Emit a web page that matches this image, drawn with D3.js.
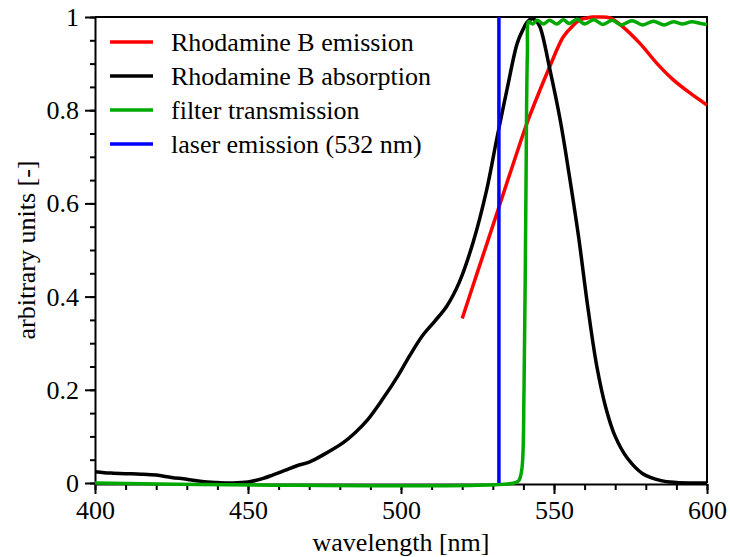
<!DOCTYPE html>
<html>
<head>
<meta charset="utf-8">
<script src="https://cdn.jsdelivr.net/npm/d3@7"></script>
<style>
  body { margin: 0; background: #fff; }
  svg text, svg g text { font-family: 'Liberation Serif', 'Times New Roman', serif !important; }
</style>
</head>
<body>
<svg id="chart" width="730" height="557"></svg>
<script>
// absorption spectrum of Rhodamine B
const absWl  = [400, 403, 406, 410, 415, 420, 425, 430, 435, 440, 445, 450, 455, 458, 462, 466, 470, 475, 481, 485, 489, 494, 499, 503, 507, 511, 515, 519, 523.5, 528, 531.4, 534.6, 538, 540, 541.2, 542.8, 544, 545.4, 548.7, 552, 555, 558, 561, 564, 567, 570, 574, 579, 585, 590, 595, 600];
const absVal = [0.024, 0.022, 0.021, 0.02, 0.019, 0.017, 0.012, 0.008, 0.003, 0.001, 0.0, 0.002, 0.01, 0.017, 0.027, 0.037, 0.045, 0.062, 0.086, 0.108, 0.135, 0.18, 0.23, 0.275, 0.316, 0.347, 0.38, 0.43, 0.515, 0.629, 0.742, 0.843, 0.944, 0.975, 0.989, 0.996, 0.993, 0.979, 0.886, 0.78, 0.66, 0.53, 0.38, 0.25, 0.16, 0.1, 0.053, 0.02, 0.005, 0.001, 0, 0];

// emission spectrum
const emWl  = [520, 524, 528, 531.7, 535, 538.2, 541.2, 545.4, 548.7, 553, 556, 558.5, 560.8, 562.7, 565, 568.3, 572.5, 578, 583.7, 589, 594.4, 600];
const emVal = [0.353, 0.433, 0.512, 0.586, 0.652, 0.715, 0.773, 0.843, 0.895, 0.957, 0.98, 0.994, 0.998, 1.0, 1.0, 0.998, 0.979, 0.944, 0.9, 0.865, 0.837, 0.811];

// filter transmission
const fWl  = [400, 537, 538.5, 539.5, 540.2, 540.8, 541.3, 541.8, 543, 544.5, 546.5, 548.5, 551, 553, 555, 557.5, 560, 563, 566, 569, 572, 575.5, 579, 582.5, 586, 589, 592, 595, 598, 600];
const fVal = [0, 0, 0.005, 0.03, 0.2, 0.6, 0.92, 0.99, 0.985, 0.993, 0.985, 0.993, 0.985, 0.994, 0.986, 0.995, 0.985, 0.994, 0.984, 0.993, 0.983, 0.992, 0.983, 0.991, 0.983, 0.99, 0.985, 0.99, 0.986, 0.984];

// laser line
const laserWl = 532;
const laserVal = [0, 1];

const legendLabels = ['Rhodamine B emission', 'Rhodamine B absorption', 'filter transmission', 'laser emission (532 nm)'];
const legendColors = ['#ff0000', '#000000', '#00a800', '#0000ff'];

const xTicks = [400, 450, 500, 550, 600];
const yTicks = [0, 0.2, 0.4, 0.6, 0.8, 1];

const fontName = 'Liberation Serif';

const svg = d3.select('#chart');
const plotL = 95, plotR = 707, plotT = 17, plotB = 483;

const x = d3.scaleLinear().domain([400, 600]).range([plotL, plotR]);
const y = d3.scaleLinear().domain([0, 1]).range([plotB, plotT]);

// serif text, forced over anything inherited
function serifText(sel, size) {
  sel.attr('font-family', fontName)
    .style('font-family', fontName, 'important')
    .style('font-size', size + 'px');
}

// frame (top + right)
svg.append('path')
  .attr('d', `M${plotL},${plotT}H${plotR}V${plotB}`)
  .attr('fill', 'none')
  .attr('stroke', '#000')
  .attr('stroke-width', 2);

// y axis with minor ticks
const yMinor = d3.range(0, 1.0001, 0.05);
svg.append('g')
  .attr('transform', `translate(${plotL},0)`)
  .call(d3.axisLeft(y).tickValues(yMinor).tickSize(5).tickFormat(''))
  .call(g => g.select('.domain').remove())
  .selectAll('line').attr('stroke-width', 2);

const yAxis = svg.append('g')
  .attr('transform', `translate(${plotL},0)`)
  .call(d3.axisLeft(y).tickValues(yTicks).tickSize(10).tickPadding(6).tickFormat(d3.format('~g')).tickSizeOuter(0))
  .attr('font-family', fontName);
yAxis.select('.domain').attr('stroke-width', 2);
yAxis.selectAll('line').attr('stroke-width', 2);
yAxis.selectAll('text').call(serifText, 26).attr('dy', '0.33em');

// x axis with minor ticks
const xMinor = d3.range(400, 601, 10);
svg.append('g')
  .attr('transform', `translate(0,${plotB + 1})`)
  .call(d3.axisBottom(x).tickValues(xMinor).tickSize(6).tickFormat(''))
  .call(g => g.select('.domain').remove())
  .selectAll('line').attr('stroke-width', 2);

const xAxis = svg.append('g')
  .attr('transform', `translate(0,${plotB + 1})`)
  .call(d3.axisBottom(x).tickValues(xTicks).tickSize(10).tickPadding(6).tickSizeOuter(0))
  .attr('font-family', fontName);
xAxis.select('.domain').attr('stroke-width', 2);
xAxis.selectAll('line').attr('stroke-width', 2);
xAxis.selectAll('text').call(serifText, 26).attr('dy', '0.72em');

// axis titles
svg.append('text')
  .attr('x', (plotL + plotR) / 2)
  .attr('y', 551)
  .attr('text-anchor', 'middle')
  .call(serifText, 26)
  .text('wavelength [nm]');

svg.append('text')
  .attr('transform', `translate(35,${(plotT + plotB) / 2}) rotate(-90)`)
  .attr('text-anchor', 'middle')
  .call(serifText, 26)
  .text('arbitrary units [-]');

// curves
const line = d3.line()
  .x(d => x(d[0]))
  .y(d => y(d[1]))
  .curve(d3.curveCatmullRom.alpha(0.5));

function drawSeries(wl, vals, color) {
  svg.append('path')
    .datum(wl.map((w, i) => [w, vals[i]]))
    .attr('d', line)
    .attr('fill', 'none')
    .attr('stroke', color)
    .attr('stroke-width', 3.5)
    .attr('stroke-linejoin', 'round');
}

drawSeries(emWl, emVal, legendColors[0]);
drawSeries(absWl, absVal, legendColors[1]);
drawSeries(fWl, fVal, legendColors[2]);

svg.append('line')
  .attr('x1', x(laserWl)).attr('x2', x(laserWl))
  .attr('y1', y(laserVal[0])).attr('y2', y(laserVal[1]))
  .attr('stroke', legendColors[3])
  .attr('stroke-width', 3.5);

// legend
const legend = svg.append('g');
legendLabels.forEach((label, i) => {
  const ly = 42 + i * 34;
  legend.append('line')
    .attr('x1', 110).attr('x2', 153)
    .attr('y1', ly).attr('y2', ly)
    .attr('stroke', legendColors[i])
    .attr('stroke-width', 3.5);
  legend.append('text')
    .attr('x', 171)
    .attr('y', ly)
    .attr('dy', '0.35em')
    .call(serifText, 26)
    .text(label);
});
</script>
</body>
</html>
